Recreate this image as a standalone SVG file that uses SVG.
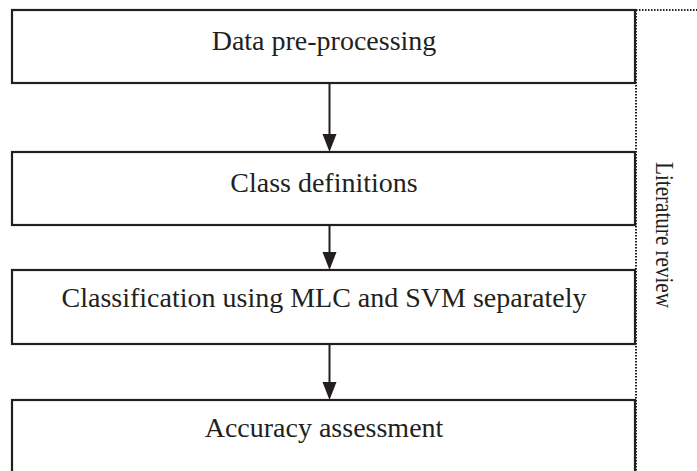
<svg xmlns="http://www.w3.org/2000/svg" width="697" height="471" viewBox="0 0 697 471">
<style>
.box{fill:#fff;stroke:#231f20;stroke-width:2.2}
.lbl{font-family:"Liberation Serif","DejaVu Serif",serif;font-size:28px;fill:#231f20;text-anchor:middle}
.side{font-size:26px}
.conn{stroke:#231f20;stroke-width:2;fill:none}
.head{fill:#231f20}
.dot{stroke:#231f20;stroke-width:2;fill:none;stroke-dasharray:1.5 1.5}
</style>
<g id="literature-review">
<path class="dot" d="M636,10 H697 M636,10 V471"/>
<text class="lbl side" transform="translate(656,235) rotate(90)" textLength="146" lengthAdjust="spacingAndGlyphs">Literature review</text>
</g>
<g id="connectors">
<line class="conn" x1="329.5" y1="83" x2="329.5" y2="136"/>
<path class="head" d="M322.5,134 L336.5,134 L329.5,152 Z"/>
<line class="conn" x1="329.5" y1="225" x2="329.5" y2="254"/>
<path class="head" d="M322.5,252 L336.5,252 L329.5,270 Z"/>
<line class="conn" x1="329.5" y1="344" x2="329.5" y2="384"/>
<path class="head" d="M322.5,382 L336.5,382 L329.5,400 Z"/>
</g>
<g id="node-preprocessing">
<rect class="box" x="12" y="10" width="623" height="73"/>
<text class="lbl" x="324" y="50">Data pre-processing</text>
</g>
<g id="node-class-definitions">
<rect class="box" x="12" y="152" width="623" height="73"/>
<text class="lbl" x="324" y="192">Class definitions</text>
</g>
<g id="node-classification">
<rect class="box" x="12" y="270" width="623" height="74"/>
<text class="lbl" x="324" y="307">Classification using MLC and SVM separately</text>
</g>
<g id="node-accuracy">
<rect class="box" x="12" y="400" width="623" height="90"/>
<text class="lbl" x="324" y="437">Accuracy assessment</text>
</g>
</svg>
